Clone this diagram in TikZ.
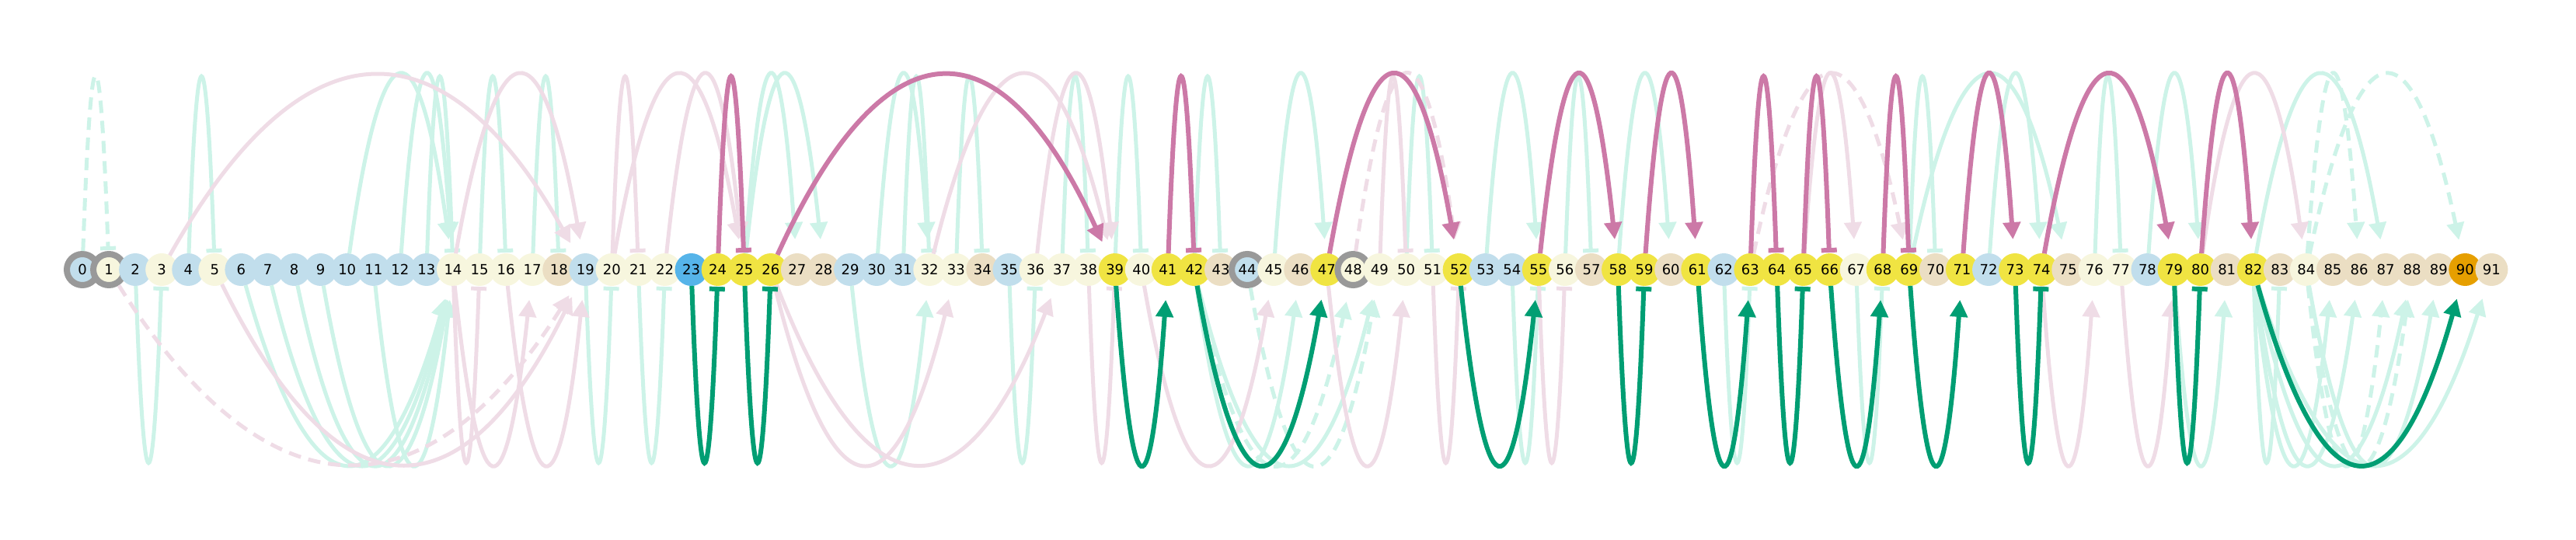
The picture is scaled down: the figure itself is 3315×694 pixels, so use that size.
\documentclass[tikz,border=0pt]{standalone}
\usepackage{fontspec}
\setmainfont{DejaVu Sans}
\usepackage{tikz}
\usepackage{xcolor}
\usetikzlibrary{arrows.meta,calc}

\definecolor{nodeblue}{RGB}{193,222,236}
\definecolor{nodecream}{RGB}{247,246,222}
\definecolor{nodetan}{RGB}{235,222,195}
\definecolor{nodesky}{RGB}{86,180,233}
\definecolor{nodeyellow}{RGB}{240,228,66}
\definecolor{nodeorange}{RGB}{230,159,0}
\definecolor{ringgray}{RGB}{153,153,153}
\definecolor{mintc}{RGB}{205,243,232}
\definecolor{rosec}{RGB}{239,220,230}
\definecolor{pinkc}{RGB}{204,121,167}
\definecolor{greenc}{RGB}{0,158,115}

\begin{document}
\begin{tikzpicture}[x=1pt, y=1pt, node distance={34.07pt},
    main/.style = {circle, minimum size=42pt, inner sep=0pt, outer sep=0pt, font=\fontsize{18}{18}\selectfont},
    ring/.style = {draw=ringgray, line width=8pt, minimum size=40pt, outer sep=4pt},
    arcup/.style = {to path={.. controls ($(\tikztostart)!0.3333!(\tikztotarget)+(0,324)$) and ($(\tikztostart)!0.6667!(\tikztotarget)+(0,324)$) .. (\tikztotarget)}},
    arcdown/.style = {to path={.. controls ($(\tikztostart)!0.3333!(\tikztotarget)+(0,-324)$) and ($(\tikztostart)!0.6667!(\tikztotarget)+(0,-324)$) .. (\tikztotarget)}},
    mintarc/.style = {draw=mintc, line width=5pt},
    rosearc/.style = {draw=rosec, line width=5pt},
    pinkarc/.style = {draw=pinkc, line width=6pt},
    greenarc/.style = {draw=greenc, line width=6pt},
    broken/.style = {dash pattern=on 16pt off 10pt},
    tri/.style = {-{Triangle[width=22pt,length=22pt]}, shorten >=18pt},
    flat/.style = {-{Bar[width=20pt]}, shorten >=1pt}]
  \useasboundingbox (0,0) rectangle (3315,694);

  \node[main, fill=nodeblue, ring] (n_0) at (106,347) {0};
  \node[main, fill=nodecream, ring] (n_1) [right of=n_0] {1};
  \node[main, fill=nodeblue] (n_2) [right of=n_1] {2};
  \node[main, fill=nodecream] (n_3) [right of=n_2] {3};
  \node[main, fill=nodeblue] (n_4) [right of=n_3] {4};
  \node[main, fill=nodecream] (n_5) [right of=n_4] {5};
  \node[main, fill=nodeblue] (n_6) [right of=n_5] {6};
  \node[main, fill=nodeblue] (n_7) [right of=n_6] {7};
  \node[main, fill=nodeblue] (n_8) [right of=n_7] {8};
  \node[main, fill=nodeblue] (n_9) [right of=n_8] {9};
  \node[main, fill=nodeblue] (n_10) [right of=n_9] {10};
  \node[main, fill=nodeblue] (n_11) [right of=n_10] {11};
  \node[main, fill=nodeblue] (n_12) [right of=n_11] {12};
  \node[main, fill=nodeblue] (n_13) [right of=n_12] {13};
  \node[main, fill=nodecream] (n_14) [right of=n_13] {14};
  \node[main, fill=nodecream] (n_15) [right of=n_14] {15};
  \node[main, fill=nodecream] (n_16) [right of=n_15] {16};
  \node[main, fill=nodecream] (n_17) [right of=n_16] {17};
  \node[main, fill=nodetan] (n_18) [right of=n_17] {18};
  \node[main, fill=nodeblue] (n_19) [right of=n_18] {19};
  \node[main, fill=nodecream] (n_20) [right of=n_19] {20};
  \node[main, fill=nodecream] (n_21) [right of=n_20] {21};
  \node[main, fill=nodecream] (n_22) [right of=n_21] {22};
  \node[main, fill=nodesky] (n_23) [right of=n_22] {23};
  \node[main, fill=nodeyellow] (n_24) [right of=n_23] {24};
  \node[main, fill=nodeyellow] (n_25) [right of=n_24] {25};
  \node[main, fill=nodeyellow] (n_26) [right of=n_25] {26};
  \node[main, fill=nodetan] (n_27) [right of=n_26] {27};
  \node[main, fill=nodetan] (n_28) [right of=n_27] {28};
  \node[main, fill=nodeblue] (n_29) [right of=n_28] {29};
  \node[main, fill=nodeblue] (n_30) [right of=n_29] {30};
  \node[main, fill=nodeblue] (n_31) [right of=n_30] {31};
  \node[main, fill=nodecream] (n_32) [right of=n_31] {32};
  \node[main, fill=nodecream] (n_33) [right of=n_32] {33};
  \node[main, fill=nodetan] (n_34) [right of=n_33] {34};
  \node[main, fill=nodeblue] (n_35) [right of=n_34] {35};
  \node[main, fill=nodecream] (n_36) [right of=n_35] {36};
  \node[main, fill=nodecream] (n_37) [right of=n_36] {37};
  \node[main, fill=nodecream] (n_38) [right of=n_37] {38};
  \node[main, fill=nodeyellow] (n_39) [right of=n_38] {39};
  \node[main, fill=nodecream] (n_40) [right of=n_39] {40};
  \node[main, fill=nodeyellow] (n_41) [right of=n_40] {41};
  \node[main, fill=nodeyellow] (n_42) [right of=n_41] {42};
  \node[main, fill=nodetan] (n_43) [right of=n_42] {43};
  \node[main, fill=nodeblue, ring] (n_44) [right of=n_43] {44};
  \node[main, fill=nodecream] (n_45) [right of=n_44] {45};
  \node[main, fill=nodetan] (n_46) [right of=n_45] {46};
  \node[main, fill=nodeyellow] (n_47) [right of=n_46] {47};
  \node[main, fill=nodecream, ring] (n_48) [right of=n_47] {48};
  \node[main, fill=nodecream] (n_49) [right of=n_48] {49};
  \node[main, fill=nodecream] (n_50) [right of=n_49] {50};
  \node[main, fill=nodecream] (n_51) [right of=n_50] {51};
  \node[main, fill=nodeyellow] (n_52) [right of=n_51] {52};
  \node[main, fill=nodeblue] (n_53) [right of=n_52] {53};
  \node[main, fill=nodeblue] (n_54) [right of=n_53] {54};
  \node[main, fill=nodeyellow] (n_55) [right of=n_54] {55};
  \node[main, fill=nodecream] (n_56) [right of=n_55] {56};
  \node[main, fill=nodetan] (n_57) [right of=n_56] {57};
  \node[main, fill=nodeyellow] (n_58) [right of=n_57] {58};
  \node[main, fill=nodeyellow] (n_59) [right of=n_58] {59};
  \node[main, fill=nodetan] (n_60) [right of=n_59] {60};
  \node[main, fill=nodeyellow] (n_61) [right of=n_60] {61};
  \node[main, fill=nodeblue] (n_62) [right of=n_61] {62};
  \node[main, fill=nodeyellow] (n_63) [right of=n_62] {63};
  \node[main, fill=nodeyellow] (n_64) [right of=n_63] {64};
  \node[main, fill=nodeyellow] (n_65) [right of=n_64] {65};
  \node[main, fill=nodeyellow] (n_66) [right of=n_65] {66};
  \node[main, fill=nodecream] (n_67) [right of=n_66] {67};
  \node[main, fill=nodeyellow] (n_68) [right of=n_67] {68};
  \node[main, fill=nodeyellow] (n_69) [right of=n_68] {69};
  \node[main, fill=nodetan] (n_70) [right of=n_69] {70};
  \node[main, fill=nodeyellow] (n_71) [right of=n_70] {71};
  \node[main, fill=nodeblue] (n_72) [right of=n_71] {72};
  \node[main, fill=nodeyellow] (n_73) [right of=n_72] {73};
  \node[main, fill=nodeyellow] (n_74) [right of=n_73] {74};
  \node[main, fill=nodetan] (n_75) [right of=n_74] {75};
  \node[main, fill=nodecream] (n_76) [right of=n_75] {76};
  \node[main, fill=nodecream] (n_77) [right of=n_76] {77};
  \node[main, fill=nodeblue] (n_78) [right of=n_77] {78};
  \node[main, fill=nodeyellow] (n_79) [right of=n_78] {79};
  \node[main, fill=nodeyellow] (n_80) [right of=n_79] {80};
  \node[main, fill=nodetan] (n_81) [right of=n_80] {81};
  \node[main, fill=nodeyellow] (n_82) [right of=n_81] {82};
  \node[main, fill=nodetan] (n_83) [right of=n_82] {83};
  \node[main, fill=nodecream] (n_84) [right of=n_83] {84};
  \node[main, fill=nodetan] (n_85) [right of=n_84] {85};
  \node[main, fill=nodetan] (n_86) [right of=n_85] {86};
  \node[main, fill=nodetan] (n_87) [right of=n_86] {87};
  \node[main, fill=nodetan] (n_88) [right of=n_87] {88};
  \node[main, fill=nodetan] (n_89) [right of=n_88] {89};
  \node[main, fill=nodeorange] (n_90) [right of=n_89] {90};
  \node[main, fill=nodetan] (n_91) [right of=n_90] {91};

  % light arcs above
  \draw[mintarc, arcup, broken, flat] (n_0) to (n_1);
  \draw[mintarc, arcup, flat] (n_4) to (n_5);
  \draw[mintarc, arcup, tri] (n_10) to (n_14);
  \draw[mintarc, arcup, tri] (n_12) to (n_14);
  \draw[mintarc, arcup, flat] (n_13) to (n_14);
  \draw[mintarc, arcup, flat] (n_15) to (n_16);
  \draw[mintarc, arcup, flat] (n_17) to (n_18);
  \draw[mintarc, arcup, tri] (n_25) to (n_27);
  \draw[mintarc, arcup, tri] (n_25) to (n_28);
  \draw[mintarc, arcup, tri] (n_30) to (n_32);
  \draw[mintarc, arcup, flat] (n_31) to (n_32);
  \draw[mintarc, arcup, flat] (n_33) to (n_34);
  \draw[mintarc, arcup, flat] (n_37) to (n_38);
  \draw[mintarc, arcup, flat] (n_39) to (n_40);
  \draw[mintarc, arcup, flat] (n_42) to (n_43);
  \draw[mintarc, arcup, tri] (n_45) to (n_47);
  \draw[mintarc, arcup, flat] (n_50) to (n_51);
  \draw[mintarc, arcup, tri] (n_53) to (n_55);
  \draw[mintarc, arcup, flat] (n_56) to (n_57);
  \draw[mintarc, arcup, tri] (n_58) to (n_60);
  \draw[mintarc, arcup, flat] (n_69) to (n_70);
  \draw[mintarc, arcup, tri] (n_69) to (n_75);
  \draw[mintarc, arcup, tri] (n_72) to (n_74);
  \draw[mintarc, arcup, flat] (n_76) to (n_77);
  \draw[mintarc, arcup, tri] (n_78) to (n_80);
  \draw[mintarc, arcup, tri] (n_82) to (n_87);
  \draw[mintarc, arcup, broken, tri] (n_84) to (n_86);
  \draw[mintarc, arcup, broken, tri] (n_84) to (n_90);
  \draw[rosearc, arcup, tri] (n_3) to (n_19);
  \draw[rosearc, arcup, tri] (n_14) to (n_19);
  \draw[rosearc, arcup, flat] (n_20) to (n_21);
  \draw[rosearc, arcup, tri] (n_20) to (n_25);
  \draw[rosearc, arcup, tri] (n_22) to (n_25);
  \draw[rosearc, arcup, tri] (n_32) to (n_39);
  \draw[rosearc, arcup, tri] (n_36) to (n_39);
  \draw[rosearc, arcup, broken, tri] (n_48) to (n_52);
  \draw[rosearc, arcup, flat] (n_49) to (n_50);
  \draw[rosearc, arcup, broken, tri] (n_63) to (n_69);
  \draw[rosearc, arcup, tri] (n_65) to (n_67);
  \draw[rosearc, arcup, tri] (n_80) to (n_84);

  % light arcs below
  \draw[mintarc, arcdown, flat] (n_2) to (n_3);
  \draw[mintarc, arcdown, tri] (n_6) to (n_14);
  \draw[mintarc, arcdown, tri] (n_7) to (n_14);
  \draw[mintarc, arcdown, tri] (n_8) to (n_14);
  \draw[mintarc, arcdown, tri] (n_9) to (n_14);
  \draw[mintarc, arcdown, tri] (n_11) to (n_14);
  \draw[mintarc, arcdown, flat] (n_19) to (n_20);
  \draw[mintarc, arcdown, flat] (n_21) to (n_22);
  \draw[mintarc, arcdown, tri] (n_29) to (n_32);
  \draw[mintarc, arcdown, flat] (n_35) to (n_36);
  \draw[mintarc, arcdown, tri] (n_42) to (n_46);
  \draw[mintarc, arcdown, broken, tri] (n_42) to (n_48);
  \draw[mintarc, arcdown, tri] (n_42) to (n_49);
  \draw[mintarc, arcdown, broken, tri] (n_44) to (n_49);
  \draw[mintarc, arcdown, flat] (n_54) to (n_55);
  \draw[mintarc, arcdown, flat] (n_62) to (n_63);
  \draw[mintarc, arcdown, flat] (n_67) to (n_68);
  \draw[mintarc, arcdown, tri] (n_79) to (n_81);
  \draw[mintarc, arcdown, flat] (n_82) to (n_83);
  \draw[mintarc, arcdown, tri] (n_82) to (n_85);
  \draw[mintarc, arcdown, tri] (n_82) to (n_86);
  \draw[mintarc, arcdown, tri] (n_82) to (n_88);
  \draw[mintarc, arcdown, tri] (n_82) to (n_91);
  \draw[mintarc, arcdown, broken, tri] (n_84) to (n_87);
  \draw[mintarc, arcdown, broken, tri] (n_84) to (n_88);
  \draw[mintarc, arcdown, tri] (n_84) to (n_89);
  \draw[rosearc, arcdown, broken, tri] (n_1) to (n_19);
  \draw[rosearc, arcdown, tri] (n_5) to (n_19);
  \draw[rosearc, arcdown, flat] (n_14) to (n_15);
  \draw[rosearc, arcdown, tri] (n_14) to (n_17);
  \draw[rosearc, arcdown, tri] (n_16) to (n_19);
  \draw[rosearc, arcdown, tri] (n_26) to (n_33);
  \draw[rosearc, arcdown, tri] (n_26) to (n_37);
  \draw[rosearc, arcdown, flat] (n_38) to (n_39);
  \draw[rosearc, arcdown, tri] (n_40) to (n_45);
  \draw[rosearc, arcdown, tri] (n_47) to (n_50);
  \draw[rosearc, arcdown, flat] (n_51) to (n_52);
  \draw[rosearc, arcdown, flat] (n_55) to (n_56);
  \draw[rosearc, arcdown, tri] (n_74) to (n_76);
  \draw[rosearc, arcdown, tri] (n_77) to (n_79);

  % strong arcs
  \draw[pinkarc, arcup, flat] (n_24) to (n_25);
  \draw[pinkarc, arcup, tri] (n_26) to (n_39);
  \draw[pinkarc, arcup, flat] (n_41) to (n_42);
  \draw[pinkarc, arcup, tri] (n_47) to (n_52);
  \draw[pinkarc, arcup, tri] (n_55) to (n_58);
  \draw[pinkarc, arcup, tri] (n_59) to (n_61);
  \draw[pinkarc, arcup, flat] (n_63) to (n_64);
  \draw[pinkarc, arcup, flat] (n_65) to (n_66);
  \draw[pinkarc, arcup, flat] (n_68) to (n_69);
  \draw[pinkarc, arcup, tri] (n_71) to (n_73);
  \draw[pinkarc, arcup, tri] (n_74) to (n_79);
  \draw[pinkarc, arcup, tri] (n_80) to (n_82);
  \draw[greenarc, arcdown, flat] (n_23) to (n_24);
  \draw[greenarc, arcdown, flat] (n_25) to (n_26);
  \draw[greenarc, arcdown, tri] (n_39) to (n_41);
  \draw[greenarc, arcdown, tri] (n_42) to (n_47);
  \draw[greenarc, arcdown, tri] (n_52) to (n_55);
  \draw[greenarc, arcdown, flat] (n_58) to (n_59);
  \draw[greenarc, arcdown, tri] (n_61) to (n_63);
  \draw[greenarc, arcdown, flat] (n_64) to (n_65);
  \draw[greenarc, arcdown, tri] (n_66) to (n_68);
  \draw[greenarc, arcdown, tri] (n_69) to (n_71);
  \draw[greenarc, arcdown, flat] (n_73) to (n_74);
  \draw[greenarc, arcdown, flat] (n_79) to (n_80);
  \draw[greenarc, arcdown, tri] (n_82) to (n_90);
\end{tikzpicture}
\end{document}
